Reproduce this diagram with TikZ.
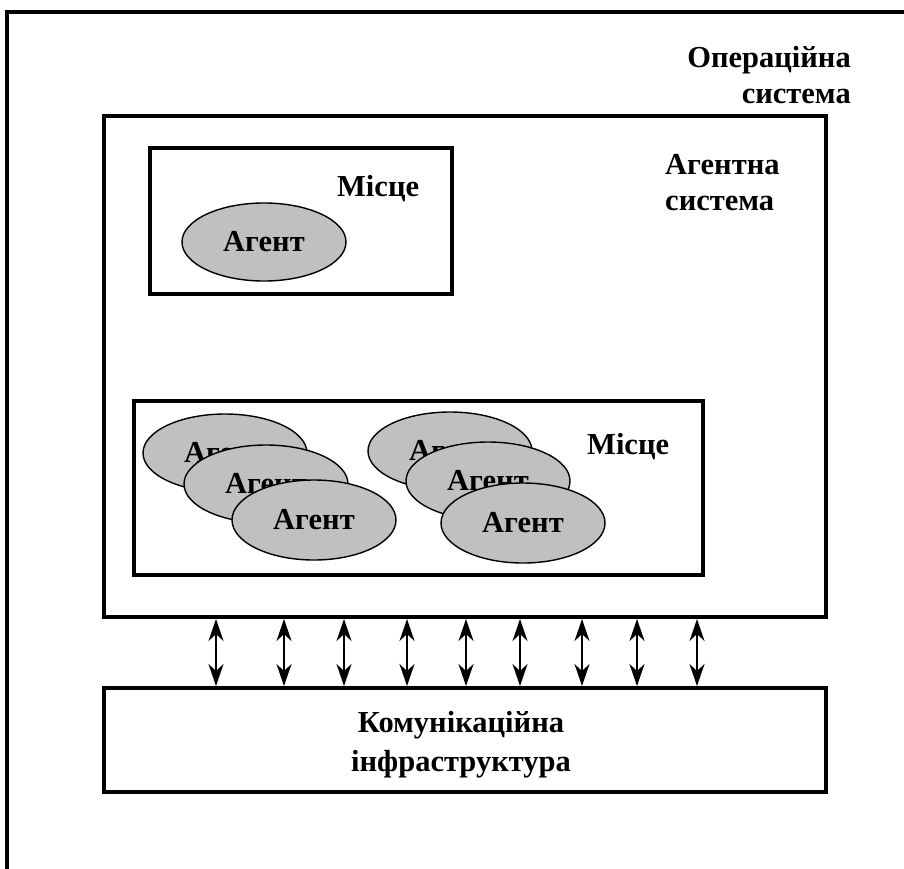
\documentclass[tikz,border=0pt]{standalone}
\usepackage{fontspec}
\setmainfont{Liberation Serif}
\usetikzlibrary{shapes.geometric,arrows.meta}

\tikzset{
  frame/.style={draw, line width=4pt, outer sep=0pt, inner sep=0pt, anchor=north west},
  agent/.style={ellipse, draw, line width=1.4pt, fill=agentgray, inner sep=0pt,
                minimum width=164pt, minimum height=78pt,
                font=\bfseries\fontsize{30.5}{34}\selectfont},
  label/.style={inner sep=0pt, font=\bfseries\fontsize{30.5}{36}\selectfont},
  tip/.style={Stealth[length=22pt,width=15pt,inset=7pt]},
  biarrow/.style={line width=2.2pt, {Stealth[length=22pt,width=15pt,inset=7pt]}-{Stealth[length=22pt,width=15pt,inset=7pt]},
                  shorten <=2pt, shorten >=2pt},
}
\definecolor{agentgray}{RGB}{192,192,192}

\begin{document}
\begin{tikzpicture}[x=1pt, y=-1pt]
  \useasboundingbox (0,0) rectangle (904,868);
  \clip (0,0) rectangle (904,868);

  % operating system frame (runs past the page edge on the right and bottom)
  \draw[line width=4.5pt] (7,950) -- (7,12) -- (960,12);
  \node[label, anchor=base east, align=right] (os) at (851,103) {Операційна\\система};

  % agent system
  \node[frame, minimum width=722pt, minimum height=501pt] (sys) at (104,116) {};
  \node[label, anchor=base west, align=left, font=\bfseries\fontsize{30.5}{36}\selectfont] (as) at (665,210) {Агентна\\система};

  % first place with a single agent
  \node[frame, minimum width=302pt, minimum height=146pt] (place1) at (150,148) {};
  \node[label, anchor=base west] (pl1) at (337,196) {Місце};
  \node[agent] (ag0) at (264,242) {Агент};

  % second place with two stacks of agents
  \node[frame, minimum width=569pt, minimum height=174pt] (place2) at (134,401) {};
  \node[label, anchor=base west] (pl2) at (587,454) {Місце};
  \node[agent] (ag1) at (225,453) {Агент};
  \node[agent] (ag2) at (266,484) {Агент};
  \node[agent, minimum height=80pt] (ag3) at (314,520) {Агент};
  \node[agent] (ag4) at (450,451) {Агент};
  \node[agent] (ag5) at (488,481) {Агент};
  \node[agent, minimum height=80pt] (ag6) at (523,523) {Агент};

  % communication infrastructure
  \node[frame, minimum width=722pt, minimum height=104pt] (comm) at (104,688) {};
  \node[label, anchor=base, align=center, font=\bfseries\fontsize{30.5}{39}\selectfont] (ci) at (461,771) {Комунікаційна\\інфраструктура};

  % links between the agent system and the infrastructure
  \foreach \i/\x in {1/216, 2/284, 3/344, 4/407, 5/466, 6/520, 7/582, 8/637, 9/697} {
    \coordinate (a\i) at (\x,650);
    \draw[biarrow] (sys.south -| a\i) -- (comm.north -| a\i);
  }
\end{tikzpicture}
\end{document}
